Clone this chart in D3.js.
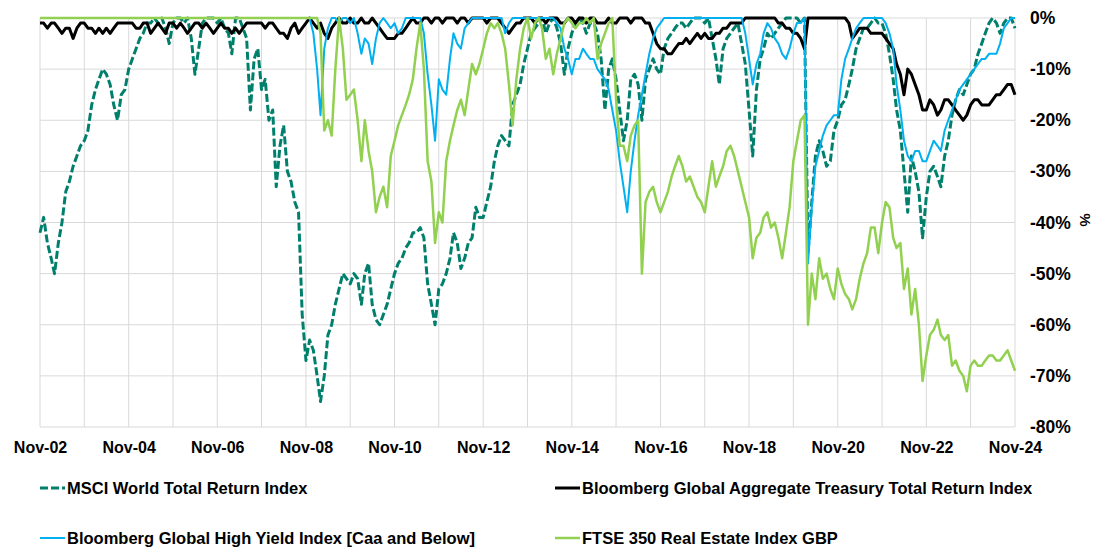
<!DOCTYPE html>
<html>
<head>
<meta charset="utf-8">
<script src="https://cdn.jsdelivr.net/npm/d3@7"></script>
<style>
body { margin: 0; background: #fff; }
svg { font-family: "Liberation Sans", Arial, sans-serif; }
.grid line { stroke: #d9d9d9; stroke-width: 1; }
.axis text { font-weight: bold; fill: #000; }
.legend text { font-size: 16.5px; font-weight: bold; }
</style>
</head>
<body>
<svg id="chart" width="1096" height="548"></svg>
<script>
// monthly drawdowns (%), Nov-02 .. Nov-24, one row = Nov..Oct
var msci = [
  -42,-39,-44,-47,-50,-44,-40,-34,-32,-29,-27,-25,
  -24,-22,-17,-14,-12,-10,-11,-13,-17,-20,-15,-14,
  -10,-8,-6,-4,-3,-1,-1,0,-1,0,-2,-5,
  -1,0,0,-1,0,-4,-11,-6,-1,0,0,0,
  -1,0,-2,-3,-7,0,0,-2,-4,-18,-8,-6,
  -14,-12,-20,-18,-33,-25,-21,-30,-32,-36,-38,-58,
  -67,-63,-65,-70,-75,-70,-62,-60,-56,-53,-50,-51,
  -52,-50,-51,-56,-50,-48,-56,-59,-60,-58,-56,-53,
  -50,-48,-47,-45,-44,-42,-42,-41,-43,-52,-56,-60,
  -53,-52,-50,-47,-42,-44,-49,-47,-44,-43,-37,-39,
  -39,-36,-33,-28,-25,-23,-24,-25,-17,-15,-13,-9,
  -6,-3,-2,-1,0,-3,-1,0,-2,-5,-11,-6,
  -3,-1,0,-1,-3,-1,-1,-3,-8,-18,-10,-8,
  -12,-18,-24,-20,-12,-11,-13,-20,-12,-10,-8,-10,
  -11,-6,-4,-3,-2,-1,-1,-2,-1,0,0,0,
  -1,0,-4,-8,-13,-6,-4,-3,-2,-1,-5,-9,
  -18,-27,-14,-8,-6,-3,-4,-3,-2,-1,0,0,
  0,0,-1,0,-46,-36,-27,-24,-26,-29,-28,-22,
  -20,-17,-16,-13,-10,-6,-4,-2,-2,-1,0,-1,
  -1,-3,-7,-12,-18,-22,-30,-38,-27,-30,-34,-43,
  -35,-30,-29,-31,-33,-27,-24,-19,-16,-14,-15,-13,
  -11,-10,-7,-5,-3,-1,0,-1,-3,-1,0,0,
  -2
];
var treasury = [
  -1,-1,-2,-1,-1,-2,-3,-2,-2,-4,-2,-1,
  -1,-2,-2,-3,-2,-3,-2,-3,-2,-1,-1,-1,
  -1,-1,-2,-2,-1,-1,-3,-2,-1,-2,-3,-1,
  -1,-2,-1,-2,-3,-2,-1,-1,-2,-1,-2,-3,
  -2,-1,-2,-2,-3,-2,-3,-2,-1,-1,-1,-1,
  -1,-2,-1,-1,-2,-3,-3,-4,-2,-1,-3,-2,
  -1,0,-1,-2,-1,-3,-4,-2,-1,0,-1,-1,
  0,-1,-1,0,-1,-1,0,-1,-2,-3,-4,-4,
  -4,-3,-3,-2,-1,0,-1,-1,0,0,-1,0,
  0,-1,0,0,0,-1,0,0,-1,0,0,0,
  0,-1,0,0,0,-1,-2,-3,-2,-1,-1,0,
  0,0,-1,0,0,-1,0,0,0,-1,-1,0,
  0,-1,0,0,-1,0,0,-1,-1,-1,0,-1,
  -1,0,0,0,-1,0,0,0,-1,-1,-3,-5,
  -6,-6,-7,-7,-6,-5,-5,-4,-5,-4,-3,-4,
  -3,-4,-4,-3,-3,-2,-2,-1,-1,-1,-1,0,
  0,0,0,0,0,0,0,0,-1,-1,-2,-2,
  -3,-3,-4,-6,0,0,0,0,0,0,0,0,
  0,0,0,-1,-4,-3,-2,-2,-2,-3,-3,-3,
  -3,-4,-5,-6,-9,-11,-15,-10,-11,-13,-15,-18,
  -18,-16,-17,-19,-18,-16,-16,-17,-18,-19,-20,-19,
  -17,-16,-16,-17,-17,-17,-16,-15,-15,-14,-13,-13,
  -15
];
var highYield = [
  0,0,0,0,0,0,0,0,0,0,0,0,
  0,0,0,0,0,0,0,0,0,0,0,0,
  0,0,0,0,0,0,0,0,0,0,0,0,
  0,0,0,0,0,0,0,0,0,0,0,0,
  0,0,0,0,0,0,0,0,0,0,0,0,
  0,0,0,0,0,0,0,0,0,0,0,0,
  0,0,-3,-10,-19,-6,-2,0,0,-1,0,0,
  -1,0,-3,-7,-4,-5,-9,-4,-1,0,-1,-2,
  -1,-3,-2,0,0,0,0,0,-3,-11,-17,-24,
  -12,-14,-15,-8,-3,-5,-6,-2,-1,0,0,0,
  0,0,0,0,0,0,-3,-1,0,0,0,0,
  0,0,0,0,0,0,0,0,-1,-2,-6,-8,
  -11,-8,-8,-6,-7,-8,-8,-10,-11,-12,-14,-18,
  -22,-28,-33,-38,-30,-24,-19,-15,-11,-7,-4,-2,
  -1,0,0,0,0,0,0,0,0,0,0,0,
  0,0,0,0,0,0,0,0,0,0,0,-3,
  -8,-13,-9,-7,-3,-1,-2,-4,-5,-7,-8,-6,
  -3,-1,-1,0,-48,-37,-29,-26,-23,-21,-20,-19,
  -19,-12,-8,-6,-4,-2,-1,0,0,0,0,0,
  0,-1,-3,-6,-13,-18,-24,-27,-28,-26,-26,-28,
  -28,-26,-24,-25,-26,-22,-20,-18,-16,-14,-13,-12,
  -11,-10,-9,-8,-8,-7,-7,-7,-5,-2,-1,0,
  0
];
var ftseRE = [
  0,0,0,0,0,0,0,0,0,0,0,0,
  0,0,0,0,0,0,0,0,0,0,0,0,
  0,0,0,0,0,0,0,0,0,0,0,0,
  0,0,0,0,0,0,0,0,0,0,0,0,
  0,0,0,0,0,0,0,0,0,0,0,0,
  0,0,0,0,0,0,0,0,0,0,0,0,
  0,0,0,0,-3,-22,-20,-23,-10,0,-6,-16,
  -15,-14,-20,-28,-20,-26,-30,-38,-35,-33,-37,-27,
  -24,-21,-19,-17,-15,-12,-6,-1,-10,-28,-32,-44,
  -38,-40,-28,-24,-21,-18,-16,-19,-14,-9,-11,-9,
  -6,-3,-1,-2,-1,-3,-6,-13,-21,-12,-6,-2,
  0,-4,-1,0,-2,-8,-6,-11,-7,-4,-1,0,
  -1,-2,-1,-1,0,-1,0,-8,-5,-3,-1,0,
  -16,-25,-25,-28,-23,-21,-20,-50,-36,-34,-33,-36,
  -38,-36,-34,-31,-29,-27,-29,-32,-31,-33,-35,-36,
  -38,-33,-28,-33,-31,-29,-26,-25,-27,-30,-33,-36,
  -39,-47,-43,-42,-39,-38,-41,-40,-43,-47,-42,-37,
  -28,-24,-20,-19,-60,-50,-55,-47,-51,-50,-53,-55,
  -49,-52,-54,-55,-57,-55,-51,-48,-46,-41,-41,-46,
  -40,-36,-37,-43,-45,-44,-53,-49,-58,-53,-60,-71,
  -66,-62,-61,-59,-62,-63,-62,-68,-67,-69,-70,-73,
  -68,-67,-68,-68,-67,-66,-66,-67,-67,-66,-65,-67,
  -69
];

var seriesNames = ["MSCI World Total Return Index",
                   "Bloomberg Global Aggregate Treasury Total Return Index",
                   "Bloomberg Global High Yield Index [Caa and Below]",
                   "FTSE 350 Real Estate Index GBP"];
var yTicks = [0,-10,-20,-30,-40,-50,-60,-70,-80];
var gridYears = d3.range(2002, 2025);
var labelYears = d3.range(2002, 2025, 2);

var start = new Date(2002, 10, 1);
var plotLeft = 40, plotRight = 1015, plotTop = 18, plotBottom = 427;

var x = d3.scaleTime().domain([start, new Date(2024, 10, 1)]).range([plotLeft, plotRight]);
var y = d3.scaleLinear().domain([-80, 0]).range([plotBottom, plotTop]);

var svg = d3.select("#chart");

// grid
svg.append("g").attr("class", "grid")
  .selectAll("line").data(gridYears).enter().append("line")
  .attr("x1", function(d) { return x(new Date(d, 10, 1)); })
  .attr("x2", function(d) { return x(new Date(d, 10, 1)); })
  .attr("y1", plotTop).attr("y2", plotBottom);
svg.append("g").attr("class", "grid")
  .selectAll("line").data(yTicks).enter().append("line")
  .attr("x1", plotLeft).attr("x2", plotRight)
  .attr("y1", function(d) { return y(d); })
  .attr("y2", function(d) { return y(d); });

// axes
var xAxis = svg.append("g").attr("class", "axis")
  .attr("transform", "translate(0," + plotBottom + ")")
  .call(d3.axisBottom(x)
    .tickValues(labelYears.map(function(d) { return new Date(d, 10, 1); }))
    .tickFormat(d3.timeFormat("%b-%y"))
    .tickSize(0).tickPadding(15));
xAxis.select(".domain").remove();
xAxis.selectAll("text").style("font-size", "16px").style("font-family", "Liberation Sans, Arial, sans-serif");

var yAxis = svg.append("g").attr("class", "axis")
  .attr("transform", "translate(" + plotRight + ",0)")
  .call(d3.axisRight(y).tickValues(yTicks)
    .tickFormat(function(d) { return d + "%"; })
    .tickSize(0).tickPadding(15));
yAxis.select(".domain").remove();
yAxis.selectAll("text").style("font-size", "17.5px").style("font-family", "Liberation Sans, Arial, sans-serif");

svg.append("text")
  .attr("transform", "translate(1080,220) rotate(90)")
  .attr("text-anchor", "middle")
  .style("font-size", "15px").style("font-weight", "bold")
  .text("%");

// lines
var line = d3.line()
  .x(function(d, i) { return x(d3.timeMonth.offset(start, i)); })
  .y(function(d) { return y(d); });

var styles = [
  {data: msci, color: "#00806c", width: 3, dash: "8,3"},
  {data: treasury, color: "#000000", width: 3, dash: null},
  {data: highYield, color: "#00b0f0", width: 2, dash: null},
  {data: ftseRE, color: "#92d050", width: 2.5, dash: null}
];

styles.forEach(function(s) {
  svg.append("path")
    .datum(s.data)
    .attr("fill", "none")
    .attr("stroke", s.color)
    .attr("stroke-width", s.width)
    .attr("stroke-linejoin", "round")
    .attr("stroke-dasharray", s.dash)
    .attr("d", line);
});

// legend
var legendPos = [[40, 488], [555, 488], [40, 538], [555, 538]];
var legend = svg.append("g").attr("class", "legend");
styles.forEach(function(s, i) {
  var p = legendPos[i];
  legend.append("line")
    .attr("x1", p[0]).attr("x2", p[0] + 25)
    .attr("y1", p[1]).attr("y2", p[1])
    .attr("stroke", s.color)
    .attr("stroke-width", s.width)
    .attr("stroke-dasharray", s.dash);
  legend.append("text")
    .attr("x", p[0] + 27).attr("y", p[1] + 6)
    .text(seriesNames[i]);
});
</script>
</body>
</html>
